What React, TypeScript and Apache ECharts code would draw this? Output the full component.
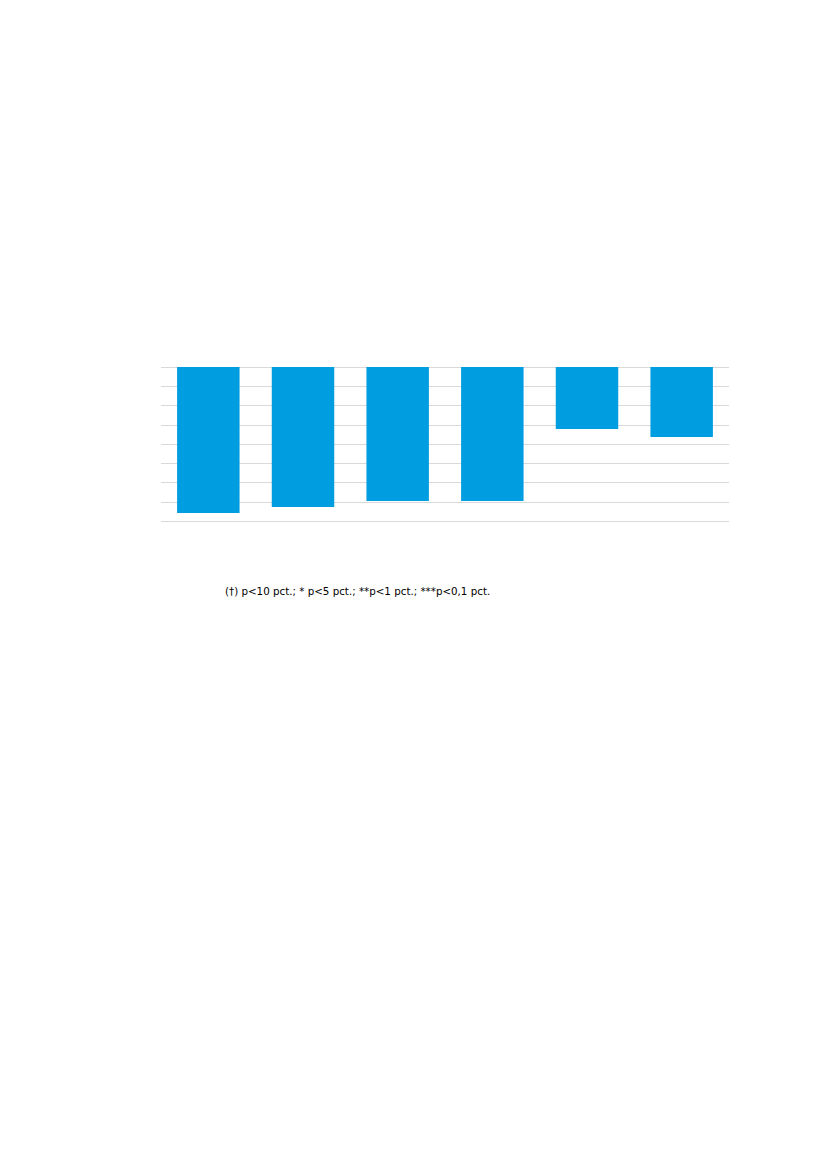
import { useEffect, useRef } from 'react'
import * as echarts from 'echarts'

const categories = ['A', 'B', 'C', 'D', 'E', 'F']
const values = [-7.58, -7.27, -6.96, -6.96, -3.22, -3.64]
const footnote = '(†) p<10 pct.; * p<5 pct.; **p<1 pct.; ***p<0,1 pct.'

export default function App() {
  const chartRef = useRef<HTMLDivElement | null>(null)

  useEffect(() => {
    if (!chartRef.current) return
    const chart = echarts.init(chartRef.current, undefined, { renderer: 'svg' })
    chart.setOption({
      animation: false,
      backgroundColor: '#ffffff',
      grid: { left: 161, right: 98, top: 367, bottom: 648 },
      xAxis: {
        type: 'category',
        data: categories,
        axisLine: { show: false },
        axisTick: { show: false },
        axisLabel: { show: false },
      },
      yAxis: {
        type: 'value',
        min: -8,
        max: 0,
        interval: 1,
        axisLine: { show: false },
        axisTick: { show: false },
        axisLabel: { show: false },
        splitLine: { lineStyle: { color: '#d9d9d9', width: 1 } },
      },
      series: [{
        type: 'bar',
        data: values,
        barWidth: '66%',
        itemStyle: { color: '#009ee0' },
      }],
      graphic: [{
        type: 'text',
        left: 225,
        top: 586,
        style: {
          text: footnote,
          fill: '#000000',
          font: '10.3px "DejaVu Sans"',
        },
      }],
    })
    return () => chart.dispose()
  }, [])

  return (
    <div
      ref={chartRef}
      style={{ position: 'absolute', left: 0, top: 0, width: 827, height: 1169 }}
    />
  )
}
